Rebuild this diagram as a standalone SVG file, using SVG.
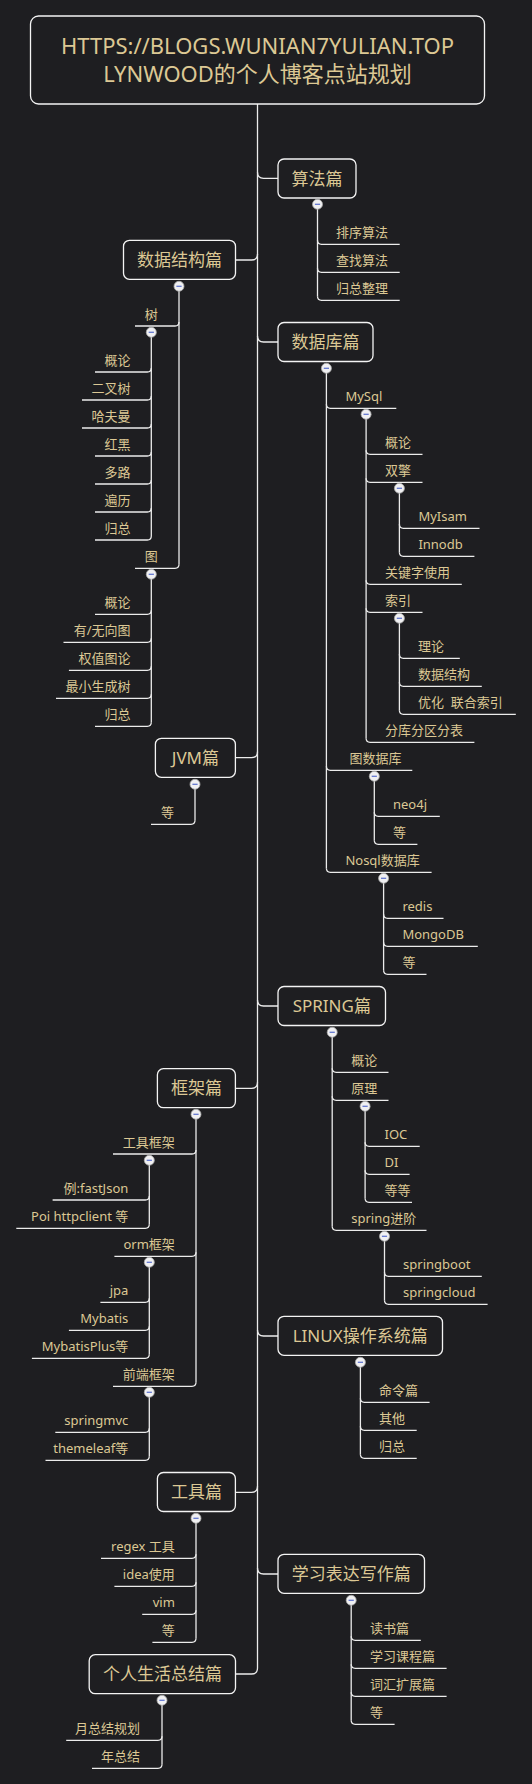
<svg xmlns="http://www.w3.org/2000/svg" xmlns:xlink="http://www.w3.org/1999/xlink" width="532" height="1784" viewBox="0 0 532 1784">
<style>
.bg{fill:#1e1e21}
.box{fill:#1e1e21;stroke:#f4f4f4;stroke-width:1.3}
text{font-family:"Noto Sans","Noto Sans CJK SC",sans-serif;fill:#dcc894}
.rt{font-size:22px;text-anchor:middle}
.bt{font-size:17px;text-anchor:middle}
.ct{font-size:13px}
.e{text-anchor:end}
.m{text-anchor:middle}
#connectors path{fill:none;stroke:#ececec;stroke-width:1.3}
</style>
<defs>
<g id="tog"><circle r="5" fill="#f0f0f2" stroke="#a8a8a8" stroke-width="0.8"/><line x1="-2.6" y1="0" x2="2.6" y2="0" stroke="#6276cf" stroke-width="1.3"/></g>
</defs>
<rect class="bg" x="0" y="0" width="532" height="1784"/>
<g id="connectors">
<path d="M257.5,104 V1668 Q257.5,1674 251.5,1674 H235.5"/>
<path d="M257.5,172.3 Q257.5,178.3 263.5,178.3 H278"/>
<path d="M257.5,336 Q257.5,342 263.5,342 H278"/>
<path d="M257.5,1000 Q257.5,1006 263.5,1006 H278"/>
<path d="M257.5,1330 Q257.5,1336 263.5,1336 H278"/>
<path d="M257.5,1568 Q257.5,1574 263.5,1574 H278"/>
<path d="M257.5,254 Q257.5,260 251.5,260 H235.5"/>
<path d="M257.5,751.7 Q257.5,757.7 251.5,757.7 H235.5"/>
<path d="M257.5,1082.3 Q257.5,1088.3 251.5,1088.3 H235.5"/>
<path d="M257.5,1486.3 Q257.5,1492.3 251.5,1492.3 H235.5"/>
<!-- 算法篇 -->
<path d="M317.5,204 V296.3"/>
<path d="M317.5,240.3 Q317.5,244.3 321.5,244.3 H399.7"/>
<path d="M317.5,268.3 Q317.5,272.3 321.5,272.3 H399.7"/>
<path d="M317.5,296.3 Q317.5,300.3 321.5,300.3 H399.7"/>
<!-- 数据结构篇 -->
<path d="M179,286 V564.3"/>
<path d="M135,326 H175 Q179,326 179,322"/>
<path d="M135,568.3 H175 Q179,568.3 179,564.3"/>
<path d="M151.3,332 V536"/>
<path d="M95,372 H147.3 Q151.3,372 151.3,368"/>
<path d="M82,400 H147.3 Q151.3,400 151.3,396"/>
<path d="M82,428 H147.3 Q151.3,428 151.3,424"/>
<path d="M95,456 H147.3 Q151.3,456 151.3,452"/>
<path d="M95,484 H147.3 Q151.3,484 151.3,480"/>
<path d="M95,512 H147.3 Q151.3,512 151.3,508"/>
<path d="M95,540 H147.3 Q151.3,540 151.3,536"/>
<path d="M151.3,574 V722.3"/>
<path d="M95,614.3 H147.3 Q151.3,614.3 151.3,610.3"/>
<path d="M63.5,642.3 H147.3 Q151.3,642.3 151.3,638.3"/>
<path d="M68.9,670.3 H147.3 Q151.3,670.3 151.3,666.3"/>
<path d="M56,698.3 H147.3 Q151.3,698.3 151.3,694.3"/>
<path d="M95,726.3 H147.3 Q151.3,726.3 151.3,722.3"/>
<!-- JVM篇 -->
<path d="M195,784 V820.3"/>
<path d="M151,824.3 H191 Q195,824.3 195,820.3"/>
<!-- 数据库篇 -->
<path d="M326.4,368 V868.3"/>
<path d="M326.4,404.3 Q326.4,408.3 330.4,408.3 H396.3"/>
<path d="M326.4,766.3 Q326.4,770.3 330.4,770.3 H412.3"/>
<path d="M326.4,868.3 Q326.4,872.3 330.4,872.3 H431.6"/>
<path d="M366.1,414 V738.3"/>
<path d="M366.1,450.3 Q366.1,454.3 370.1,454.3 H422.5"/>
<path d="M366.1,478.3 Q366.1,482.3 370.1,482.3 H422.5"/>
<path d="M366.1,580.3 Q366.1,584.3 370.1,584.3 H461.8"/>
<path d="M366.1,608.3 Q366.1,612.3 370.1,612.3 H422.5"/>
<path d="M366.1,738.3 Q366.1,742.3 370.1,742.3 H474.4"/>
<path d="M399.4,488 V552.3"/>
<path d="M399.4,524.3 Q399.4,528.3 403.4,528.3 H479.5"/>
<path d="M399.4,552.3 Q399.4,556.3 403.4,556.3 H474.4"/>
<path d="M399.4,618 V710.3"/>
<path d="M399.4,654.3 Q399.4,658.3 403.4,658.3 H459.8"/>
<path d="M399.4,682.3 Q399.4,686.3 403.4,686.3 H481.8"/>
<path d="M399.4,710.3 Q399.4,714.3 403.4,714.3 H515.8"/>
<path d="M374.3,776 V840.3"/>
<path d="M374.3,812.3 Q374.3,816.3 378.3,816.3 H439.8"/>
<path d="M374.3,840.3 Q374.3,844.3 378.3,844.3 H417.4"/>
<path d="M383.6,878 V970.3"/>
<path d="M383.6,914.3 Q383.6,918.3 387.6,918.3 H443.5"/>
<path d="M383.6,942.3 Q383.6,946.3 387.6,946.3 H477.8"/>
<path d="M383.6,970.3 Q383.6,974.3 387.6,974.3 H426.5"/>
<!-- SPRING篇 -->
<path d="M332.2,1032 V1226.3"/>
<path d="M332.2,1068.3 Q332.2,1072.3 336.2,1072.3 H388.5"/>
<path d="M332.2,1096.3 Q332.2,1100.3 336.2,1100.3 H388.5"/>
<path d="M332.2,1226.3 Q332.2,1230.3 336.2,1230.3 H426.5"/>
<path d="M365.1,1106 V1198.3"/>
<path d="M365.1,1142.3 Q365.1,1146.3 369.1,1146.3 H419.7"/>
<path d="M365.1,1170.3 Q365.1,1174.3 369.1,1174.3 H409.6"/>
<path d="M365.1,1198.3 Q365.1,1202.3 369.1,1202.3 H412"/>
<path d="M384.5,1236 V1300.3"/>
<path d="M384.5,1272.3 Q384.5,1276.3 388.5,1276.3 H481.8"/>
<path d="M384.5,1300.3 Q384.5,1304.3 388.5,1304.3 H487.6"/>
<!-- 框架篇 -->
<path d="M196,1114 V1382.3"/>
<path d="M113,1154 H192 Q196,1154 196,1150"/>
<path d="M114.4,1256.3 H192 Q196,1256.3 196,1252.3"/>
<path d="M113,1386.3 H192 Q196,1386.3 196,1382.3"/>
<path d="M149.3,1160 V1224.3"/>
<path d="M52.6,1200 H145.3 Q149.3,1200 149.3,1196"/>
<path d="M16.3,1228.3 H145.3 Q149.3,1228.3 149.3,1224.3"/>
<path d="M149.3,1262 V1354.3"/>
<path d="M100.4,1302.3 H145.3 Q149.3,1302.3 149.3,1298.3"/>
<path d="M68.9,1330.3 H145.3 Q149.3,1330.3 149.3,1326.3"/>
<path d="M31.9,1358.3 H145.3 Q149.3,1358.3 149.3,1354.3"/>
<path d="M149.3,1392 V1456.3"/>
<path d="M55.3,1432.3 H145.3 Q149.3,1432.3 149.3,1428.3"/>
<path d="M45.5,1460.3 H145.3 Q149.3,1460.3 149.3,1456.3"/>
<!-- LINUX -->
<path d="M360.4,1362 V1454.3"/>
<path d="M360.4,1398.3 Q360.4,1402.3 364.4,1402.3 H429.6"/>
<path d="M360.4,1426.3 Q360.4,1430.3 364.4,1430.3 H416.7"/>
<path d="M360.4,1454.3 Q360.4,1458.3 364.4,1458.3 H416.7"/>
<!-- 工具篇 -->
<path d="M196,1518 V1638.3"/>
<path d="M101,1558.3 H192 Q196,1558.3 196,1554.3"/>
<path d="M114.4,1586.3 H192 Q196,1586.3 196,1582.3"/>
<path d="M142.2,1614.3 H192 Q196,1614.3 196,1610.3"/>
<path d="M152.4,1642.3 H192 Q196,1642.3 196,1638.3"/>
<!-- 学习表达写作篇 -->
<path d="M351.2,1600 V1720.3"/>
<path d="M351.2,1636.3 Q351.2,1640.3 355.2,1640.3 H420.8"/>
<path d="M351.2,1664.3 Q351.2,1668.3 355.2,1668.3 H446.6"/>
<path d="M351.2,1692.3 Q351.2,1696.3 355.2,1696.3 H446.6"/>
<path d="M351.2,1720.3 Q351.2,1724.3 355.2,1724.3 H394.6"/>
<!-- 个人生活总结篇 -->
<path d="M162,1700 V1764.3"/>
<path d="M66.2,1740.3 H158 Q162,1740.3 162,1736.3"/>
<path d="M92,1768.3 H158 Q162,1768.3 162,1764.3"/>
</g>

<g id="root">
<rect class="box" x="30.5" y="16" width="454" height="88" rx="8"/>
<text class="rt" x="257.5" y="54">HTTPS://BLOGS.WUNIAN7YULIAN.TOP</text>
<text class="rt" x="257.5" y="82">LYNWOOD的个人博客点站规划</text>
</g>

<g id="n-suanfa">
<rect class="box" x="278" y="159" width="78" height="39" rx="6"/>
<text class="bt" x="317" y="184.5">算法篇</text>
<use href="#tog" x="317.5" y="204.3"/>
<text class="ct" x="336" y="237.3">排序算法</text>
<text class="ct" x="336" y="265.3">查找算法</text>
<text class="ct" x="336" y="293.3">归总整理</text>
</g>

<g id="n-shujujiegou">
<rect class="box" x="123.5" y="240.3" width="112" height="39" rx="6"/>
<text class="bt" x="179.5" y="265.8">数据结构篇</text>
<use href="#tog" x="179" y="286.3"/>
<text class="ct m" x="151.3" y="319">树</text>
<use href="#tog" x="151.3" y="332.3"/>
<text class="ct e" x="130.6" y="365">概论</text>
<text class="ct e" x="130.6" y="393">二叉树</text>
<text class="ct e" x="130.6" y="421">哈夫曼</text>
<text class="ct e" x="130.6" y="449">红黑</text>
<text class="ct e" x="130.6" y="477">多路</text>
<text class="ct e" x="130.6" y="505">遍历</text>
<text class="ct e" x="130.6" y="533">归总</text>
<text class="ct m" x="151.3" y="561.3">图</text>
<use href="#tog" x="151.3" y="574.3"/>
<text class="ct e" x="130.6" y="607.3">概论</text>
<text class="ct e" x="130.6" y="635.3">有/无向图</text>
<text class="ct e" x="130.6" y="663.3">权值图论</text>
<text class="ct e" x="130.6" y="691.3">最小生成树</text>
<text class="ct e" x="130.6" y="719.3">归总</text>
</g>

<g id="n-shujuku">
<rect class="box" x="278" y="322.5" width="95" height="39" rx="6"/>
<text class="bt" x="325.5" y="348">数据库篇</text>
<use href="#tog" x="326.4" y="368.3"/>
<text class="ct" x="345.4" y="401.3">MySql</text>
<use href="#tog" x="366.1" y="414.3"/>
<text class="ct" x="385" y="447.3">概论</text>
<text class="ct" x="385" y="475.3">双擎</text>
<use href="#tog" x="399.4" y="488.3"/>
<text class="ct" x="418.4" y="521.3">MyIsam</text>
<text class="ct" x="418.4" y="549.3">Innodb</text>
<text class="ct" x="385" y="577.3">关键字使用</text>
<text class="ct" x="385" y="605.3">索引</text>
<use href="#tog" x="399.4" y="618.3"/>
<text class="ct" x="418" y="651.3">理论</text>
<text class="ct" x="418" y="679.3">数据结构</text>
<text class="ct" x="418" y="707.3" xml:space="preserve">优化  联合索引</text>
<text class="ct" x="385" y="735.3">分库分区分表</text>
<text class="ct" x="349.5" y="763.3">图数据库</text>
<use href="#tog" x="374.3" y="776.3"/>
<text class="ct" x="393" y="809.3">neo4j</text>
<text class="ct" x="393" y="837.3">等</text>
<text class="ct" x="345.4" y="865.3">Nosql数据库</text>
<use href="#tog" x="383.6" y="878.3"/>
<text class="ct" x="402.4" y="911.3">redis</text>
<text class="ct" x="402.4" y="939.3">MongoDB</text>
<text class="ct" x="402.4" y="967.3">等</text>
</g>

<g id="n-jvm">
<rect class="box" x="155.4" y="738.3" width="80" height="39" rx="6"/>
<text class="bt" x="195.4" y="763.8">JVM篇</text>
<use href="#tog" x="195" y="784.3"/>
<text class="ct e" x="174" y="817.3">等</text>
</g>

<g id="n-spring">
<rect class="box" x="278" y="986.5" width="107.5" height="39" rx="6"/>
<text class="bt" x="331.8" y="1012">SPRING篇</text>
<use href="#tog" x="332.2" y="1032.3"/>
<text class="ct" x="351.2" y="1065.3">概论</text>
<text class="ct" x="351.2" y="1093.3">原理</text>
<use href="#tog" x="365.1" y="1106.3"/>
<text class="ct" x="384.5" y="1139.3">IOC</text>
<text class="ct" x="384.5" y="1167.3">DI</text>
<text class="ct" x="384.5" y="1195.3">等等</text>
<text class="ct" x="351.2" y="1223.3">spring进阶</text>
<use href="#tog" x="384.5" y="1236.3"/>
<text class="ct" x="403.1" y="1269.3">springboot</text>
<text class="ct" x="403.1" y="1297.3">springcloud</text>
</g>

<g id="n-kuangjia">
<rect class="box" x="157.4" y="1068.7" width="78" height="39" rx="6"/>
<text class="bt" x="196.4" y="1094.2">框架篇</text>
<use href="#tog" x="196" y="1114.3"/>
<text class="ct e" x="174.8" y="1147">工具框架</text>
<use href="#tog" x="149.3" y="1160.3"/>
<text class="ct e" x="128.3" y="1193">例:fastJson</text>
<text class="ct e" x="128.3" y="1221.3">Poi httpclient 等</text>
<text class="ct e" x="174.8" y="1249.3">orm框架</text>
<use href="#tog" x="149.3" y="1262.3"/>
<text class="ct e" x="128.3" y="1295.3">jpa</text>
<text class="ct e" x="128.3" y="1323.3">Mybatis</text>
<text class="ct e" x="128.3" y="1351.3">MybatisPlus等</text>
<text class="ct e" x="174.8" y="1379.3">前端框架</text>
<use href="#tog" x="149.3" y="1392.3"/>
<text class="ct e" x="128.3" y="1425.3">springmvc</text>
<text class="ct e" x="128.3" y="1453.3">themeleaf等</text>
</g>

<g id="n-linux">
<rect class="box" x="278" y="1316.3" width="164.5" height="39" rx="6"/>
<text class="bt" x="360.2" y="1341.8">LINUX操作系统篇</text>
<use href="#tog" x="360.4" y="1362.3"/>
<text class="ct" x="379" y="1395.3">命令篇</text>
<text class="ct" x="379" y="1423.3">其他</text>
<text class="ct" x="379" y="1451.3">归总</text>
</g>

<g id="n-gongju">
<rect class="box" x="157.4" y="1472.5" width="78" height="39" rx="6"/>
<text class="bt" x="196.4" y="1498">工具篇</text>
<use href="#tog" x="196" y="1518.3"/>
<text class="ct e" x="174.8" y="1551.3">regex 工具</text>
<text class="ct e" x="174.8" y="1579.3">idea使用</text>
<text class="ct e" x="174.8" y="1607.3">vim</text>
<text class="ct e" x="174.8" y="1635.3">等</text>
</g>

<g id="n-xuexi">
<rect class="box" x="278" y="1554.3" width="146.5" height="39" rx="6"/>
<text class="bt" x="351.2" y="1579.8">学习表达写作篇</text>
<use href="#tog" x="351.2" y="1600.3"/>
<text class="ct" x="369.9" y="1633.3">读书篇</text>
<text class="ct" x="369.9" y="1661.3">学习课程篇</text>
<text class="ct" x="369.9" y="1689.3">词汇扩展篇</text>
<text class="ct" x="369.9" y="1717.3">等</text>
</g>

<g id="n-shenghuo">
<rect class="box" x="89.2" y="1654.7" width="146.3" height="39" rx="6"/>
<text class="bt" x="162.4" y="1680.2">个人生活总结篇</text>
<use href="#tog" x="162" y="1700.3"/>
<text class="ct e" x="140.1" y="1733.3">月总结规划</text>
<text class="ct e" x="140.1" y="1761.3">年总结</text>
</g>
</svg>
